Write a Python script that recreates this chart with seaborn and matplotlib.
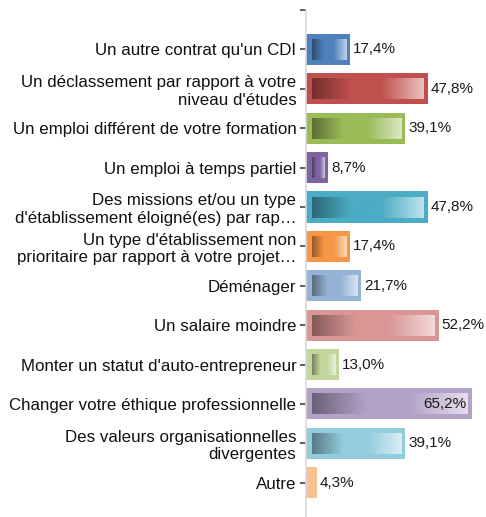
import numpy as np
import matplotlib
matplotlib.use("Agg")
import matplotlib.pyplot as plt
from matplotlib.colors import to_rgb
import seaborn as sns

categories = [
    "Un autre contrat qu'un CDI",
    "Un déclassement par rapport à votre\nniveau d'études",
    "Un emploi différent de votre formation",
    "Un emploi à temps partiel",
    "Des missions et/ou un type\nd'établissement éloigné(es) par rap…",
    "Un type d'établissement non\nprioritaire par rapport à votre projet…",
    "Déménager",
    "Un salaire moindre",
    "Monter un statut d'auto-entrepreneur",
    "Changer votre éthique professionnelle",
    "Des valeurs organisationnelles\ndivergentes",
    "Autre",
]
values = [17.4, 47.8, 39.1, 8.7, 47.8, 17.4, 21.7, 52.2, 13.0, 65.2, 39.1, 4.3]
colors = ["#4F81BD", "#C0504D", "#9BBB59", "#8064A2", "#4BACC6", "#F79646",
          "#95B3D7", "#D99694", "#C3D69B", "#B3A2C7", "#93CDDD", "#FAC090"]

sns.set_style("white")
plt.rcParams['font.family'] = ['Liberation Sans', 'DejaVu Sans']

W, H, DPI = 486, 517, 100
fig = plt.figure(figsize=(W / DPI, H / DPI), dpi=DPI)
ax_left, ax_right, ax_top, ax_bottom = 306, 484, 10, 517
ax = fig.add_axes([ax_left / W, 1 - ax_bottom / H, (ax_right - ax_left) / W, (ax_bottom - ax_top) / H])

bar_h = 0.79
sns.barplot(x=values, y=categories, hue=categories, palette=colors, legend=False,
            orient="h", width=bar_h, saturation=1, ax=ax, edgecolor="none")

xmax = 70
ylo, yhi = 11.87, -1
ax.set_xlim(0, xmax)
ax.set_ylim(ylo, yhi)

ppx = xmax / (ax_right - ax_left)
ppy = abs(ylo - yhi) / (ax_bottom - ax_top)


def gradient(c):
    c = np.array(to_rgb(c))
    dark = c * 0.6
    light = c + (1 - c) * 0.65
    stops = [(0.0, dark), (0.35, c), (0.62, c), (1.0, light)]
    xs = np.linspace(0, 1, 256)
    pos = [s[0] for s in stops]
    arr = np.zeros((1, 256, 3))
    for k in range(3):
        arr[0, :, k] = np.interp(xs, pos, [s[1][k] for s in stops])
    return arr


for i, (v, c) in enumerate(zip(values, colors)):
    x0 = 5.5 * ppx
    x1 = v - 4.5 * ppx
    y0 = i - bar_h / 2 + 6 * ppy
    y1 = i + bar_h / 2 - 5 * ppy
    if (x1 - x0) / ppx > 3:
        ax.imshow(gradient(c), extent=(x0, x1, y1, y0), aspect="auto",
                  interpolation="bilinear", zorder=3)
    label = f"{v:.1f}".replace(".", ",") + "%"
    if v > 60:
        ax.text(v - 5 * ppx, i, label, ha="right", va="center", fontsize=11,
                color="#1a1a1a", zorder=4)
    else:
        ax.text(v + 3 * ppx, i, label, ha="left", va="center", fontsize=11,
                color="#1a1a1a", zorder=4)

ax.set_xlim(0, xmax)
ax.set_ylim(ylo, yhi)

ax.set_yticks(list(range(-1, len(categories))))
ax.set_yticklabels([""] + categories, fontsize=12.2, color="#111111")
ax.set_xticks([])
ax.set_xlabel("")
ax.set_ylabel("")
for s in ["top", "right", "bottom"]:
    ax.spines[s].set_visible(False)
ax.spines["left"].set_color("#D9D9D9")
ax.spines["left"].set_linewidth(1.2)
ax.tick_params(axis="y", left=True, length=4.5, width=1.1, color="#333333", pad=2.4)

fig.savefig("out.png", dpi=DPI)
